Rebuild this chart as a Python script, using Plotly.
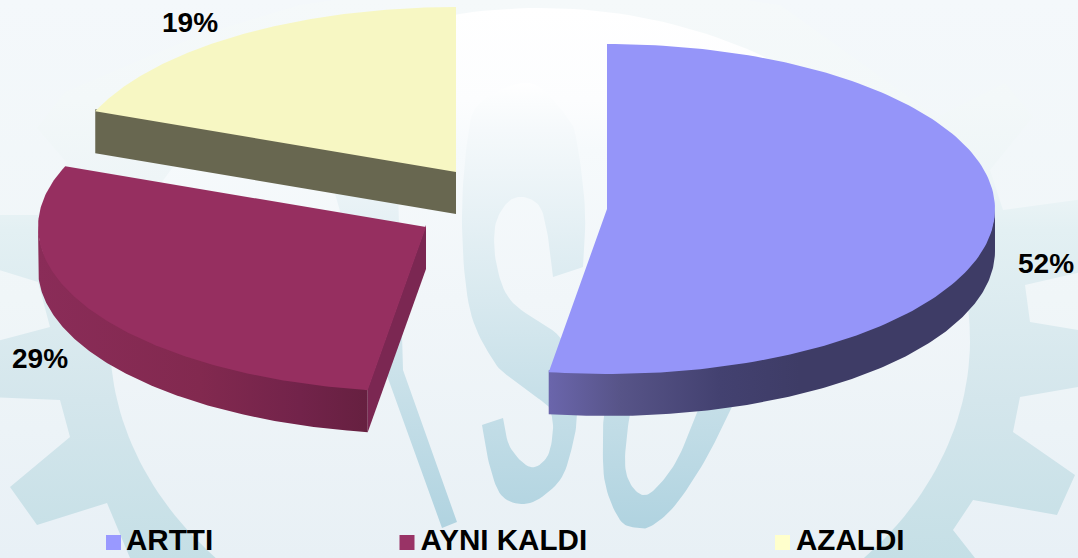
import numpy as np
import plotly.graph_objects as go

# ---- chart data ----
categories = ["ARTTI", "AYNI KALDI", "AZALDI"]
shares = [52.4, 28.6, 19.0]
top_colors = ["#9595f9", "#962f60", "#f7f7c3"]
legend_colors = ["#9999ff", "#993366", "#ffffcc"]
cut_colors = [None, "#7b2752", "#686750"]

# ---- layout of the exploded pie (pixels of the plot area) ----
W, H = 1078, 558
RX, RY, DEPTH = 388, 165, 42
apexes = [(607, 209), (426, 227), (456, 172)]
label_pos = [(1046, 263), (40, 358), (190, 22)]
legend_marker_pos = [(113.5, 542.5), (407, 542.5), (782.5, 542.5)]
legend_text_pos = [(126, 543), (420.5, 543), (796, 543)]
FONT = "Liberation Sans, Arial, sans-serif"

# ---- watermark outlines (background decoration) ----
gear_x = [37, 65, 140, 200, 300, 540, 780, 937, 1005, 1033, 990, 1003, 1090,
          1090, 1025, 1030, 1090, 1090, 1020, 1013, 1075, 1057, 973, 953, 975, 1000,
          150, 130, 107, 37, 10, 70, 60, -10, -10, 50, 38, -10, -10, 38, 67]
gear_y = [128, 92, 60, 35, 5, -30, 5, 117, 83, 117, 170, 210, 198,
          270, 285, 322, 332, 385, 397, 432, 475, 515, 500, 530, 558, 600,
          600, 558, 503, 525, 487, 437, 400, 397, 343, 327, 282, 267, 215, 215, 163]

s_x = [530, 567, 577, 585, 583, 553, 548, 540, 523, 507, 495, 497, 513, 560, 575, 577,
       573, 560, 530, 503, 490, 482, 503, 510, 530, 547, 553, 550, 543, 513, 493, 470,
       462, 467, 480]
s_y = [83, 117, 143, 210, 267, 277, 237, 207, 197, 203, 227, 267, 303, 337, 375, 413,
       443, 480, 503, 497, 467, 425, 418, 447, 467, 457, 430, 410, 402, 380, 360, 310,
       227, 143, 103]
s_corners = [4, 5, 21, 22]
o_x = [615, 605, 603, 605, 620, 638, 653, 677, 707, 730, 745, 710, 697, 677, 657, 643,
       630, 625, 630, 638]
o_y = [380, 410, 437, 483, 520, 528, 525, 503, 457, 410, 380, 380, 413, 460, 487, 495,
       483, 460, 413, 380]
o_corners = [0, 10, 11, 19]
i_x = [334, 398, 403, 457, 442, 385]
i_y = [190, 190, 370, 522, 528, 370]


def smooth(xs, ys, corners, n=10):
    """Round an outline with Catmull-Rom segments, keeping the corner points sharp."""
    pts = np.column_stack([xs, ys]).astype(float)
    m = len(pts)
    out = []
    for k in range(m):
        p1, p2 = pts[k], pts[(k + 1) % m]
        p0 = p1 if k in corners else pts[(k - 1) % m]
        p3 = p2 if (k + 1) % m in corners else pts[(k + 2) % m]
        for u in np.linspace(0, 1, n, endpoint=False):
            out.append(0.5 * (2 * p1 + (p2 - p0) * u + (2 * p0 - 5 * p1 + 4 * p2 - p3) * u ** 2
                              + (3 * p1 - p0 - 3 * p2 + p3) * u ** 3))
    out = np.array(out)
    return out[:, 0], out[:, 1]


def rim(apex, t0, t1, n=160, drop=0):
    t = np.radians(np.linspace(t0, t1, n))
    return apex[0] + RX * np.sin(t), apex[1] - RY * np.cos(t) + drop


def vgrad(stops):
    y0, y1 = stops[0][0], stops[-1][0]
    return dict(type="vertical", start=y0, stop=y1,
                colorscale=[[(y - y0) / (y1 - y0), c] for y, c in stops])


def hgrad(stops):
    x0, x1 = stops[0][0], stops[-1][0]
    return dict(type="horizontal", start=x0, stop=x1,
                colorscale=[[(x - x0) / (x1 - x0), c] for x, c in stops])


fig = go.Figure()


def poly(x, y, color=None, grad=None):
    kw = dict(fillgradient=grad) if grad else dict(fillcolor=color)
    fig.add_trace(go.Scatter(x=list(x), y=list(y), mode="lines", fill="toself",
                             line=dict(width=0), hoverinfo="skip", showlegend=False, **kw))


# background and watermark
poly([0, W, W, 0], [0, 0, H, H],
     grad=vgrad([(0, "#f4f8fb"), (300, "#f0f6f8"), (558, "#e8f0f6")]))
poly(gear_x, gear_y, grad=vgrad([(0, "#f5f9fa"), (100, "#f3f8f9"), (180, "#eef5f7"),
                                 (230, "#e3f0f3"), (400, "#d4e6ec"), (558, "#c5dfe6")]))
t_in = np.radians(np.linspace(0, 360, 240))
poly(540 + 430 * np.sin(t_in), 340 - 332 * np.cos(t_in),
     grad=vgrad([(8, "#ffffff"), (100, "#fcfdfe"), (150, "#f6fafc"), (300, "#f1f6f9"),
                 (558, "#e8f0f5")]))
letters = vgrad([(80, "#ffffff"), (130, "#f5f9fb"), (300, "#d8e9ef"), (400, "#c6dfe8"),
                 (530, "#b0d3e0")])
poly(*smooth(s_x, s_y, s_corners), grad=letters)
poly(*smooth(o_x, o_y, o_corners), grad=letters)
poly(i_x, i_y, grad=letters)

# slices
cum = np.cumsum([0] + shares)
angles = cum / cum[-1] * 360
walls = [
    (90, angles[1], hgrad([(550, "#6a65ab"), (620, "#575488"), (720, "#434170"),
                           (800, "#3e3c66"), (995, "#3e3c66")])),
    (angles[1], 270, hgrad([(38, "#8a2c58"), (200, "#82294f"), (300, "#72234a"),
                            (368, "#662040")])),
]
for i, (a0, a1, grad) in zip([0, 1], walls):
    x_t, y_t = rim(apexes[i], a0, a1, drop=-2)
    x_b, y_b = rim(apexes[i], a0, a1, drop=DEPTH)
    poly(np.r_[x_t, x_b[::-1]], np.r_[y_t, y_b[::-1]], grad=grad)

for i, cat in enumerate(categories):
    ax, ay = apexes[i]
    if cut_colors[i]:
        rx_, ry_ = rim(apexes[i], angles[i], angles[i], n=1)
        poly([ax, rx_[0], rx_[0], ax], [ay - 2, ry_[0] - 2, ry_[0] + DEPTH, ay + DEPTH],
             color=cut_colors[i])
    x_t, y_t = rim(apexes[i], angles[i], angles[i + 1])
    poly(np.r_[ax, x_t], np.r_[ay, y_t], color=top_colors[i])

# percentage labels
for (x, y), v in zip(label_pos, shares):
    fig.add_annotation(x=x, y=y, text=f"<b>{round(v)}%</b>", showarrow=False,
                       font=dict(family=FONT, size=28, color="#000000"))

# legend
for (mx, my), (tx, ty), name, c in zip(legend_marker_pos, legend_text_pos, categories, legend_colors):
    fig.add_trace(go.Scatter(x=[mx], y=[my], mode="markers",
                             marker=dict(symbol="square", size=15, color=c, line=dict(width=0)),
                             hoverinfo="skip", showlegend=False, cliponaxis=False))
    fig.add_trace(go.Scatter(x=[tx], y=[ty], mode="text", text=[f"<b>{name}</b>"],
                             textposition="middle right",
                             textfont=dict(family=FONT, size=29.6, color="#000000"),
                             hoverinfo="skip", showlegend=False, cliponaxis=False))

fig.update_layout(
    width=W, height=H, margin=dict(l=0, r=0, t=0, b=0), autosize=False,
    paper_bgcolor="#f0f6f8", plot_bgcolor="#f0f6f8", showlegend=False,
    xaxis=dict(range=[0, W], visible=False, fixedrange=True),
    yaxis=dict(range=[H, 0], visible=False, fixedrange=True),
)
fig.write_html("out.html", config=dict(displayModeBar=False),
               post_script="document.body.style.margin='0';document.documentElement.style.overflow='hidden';")
